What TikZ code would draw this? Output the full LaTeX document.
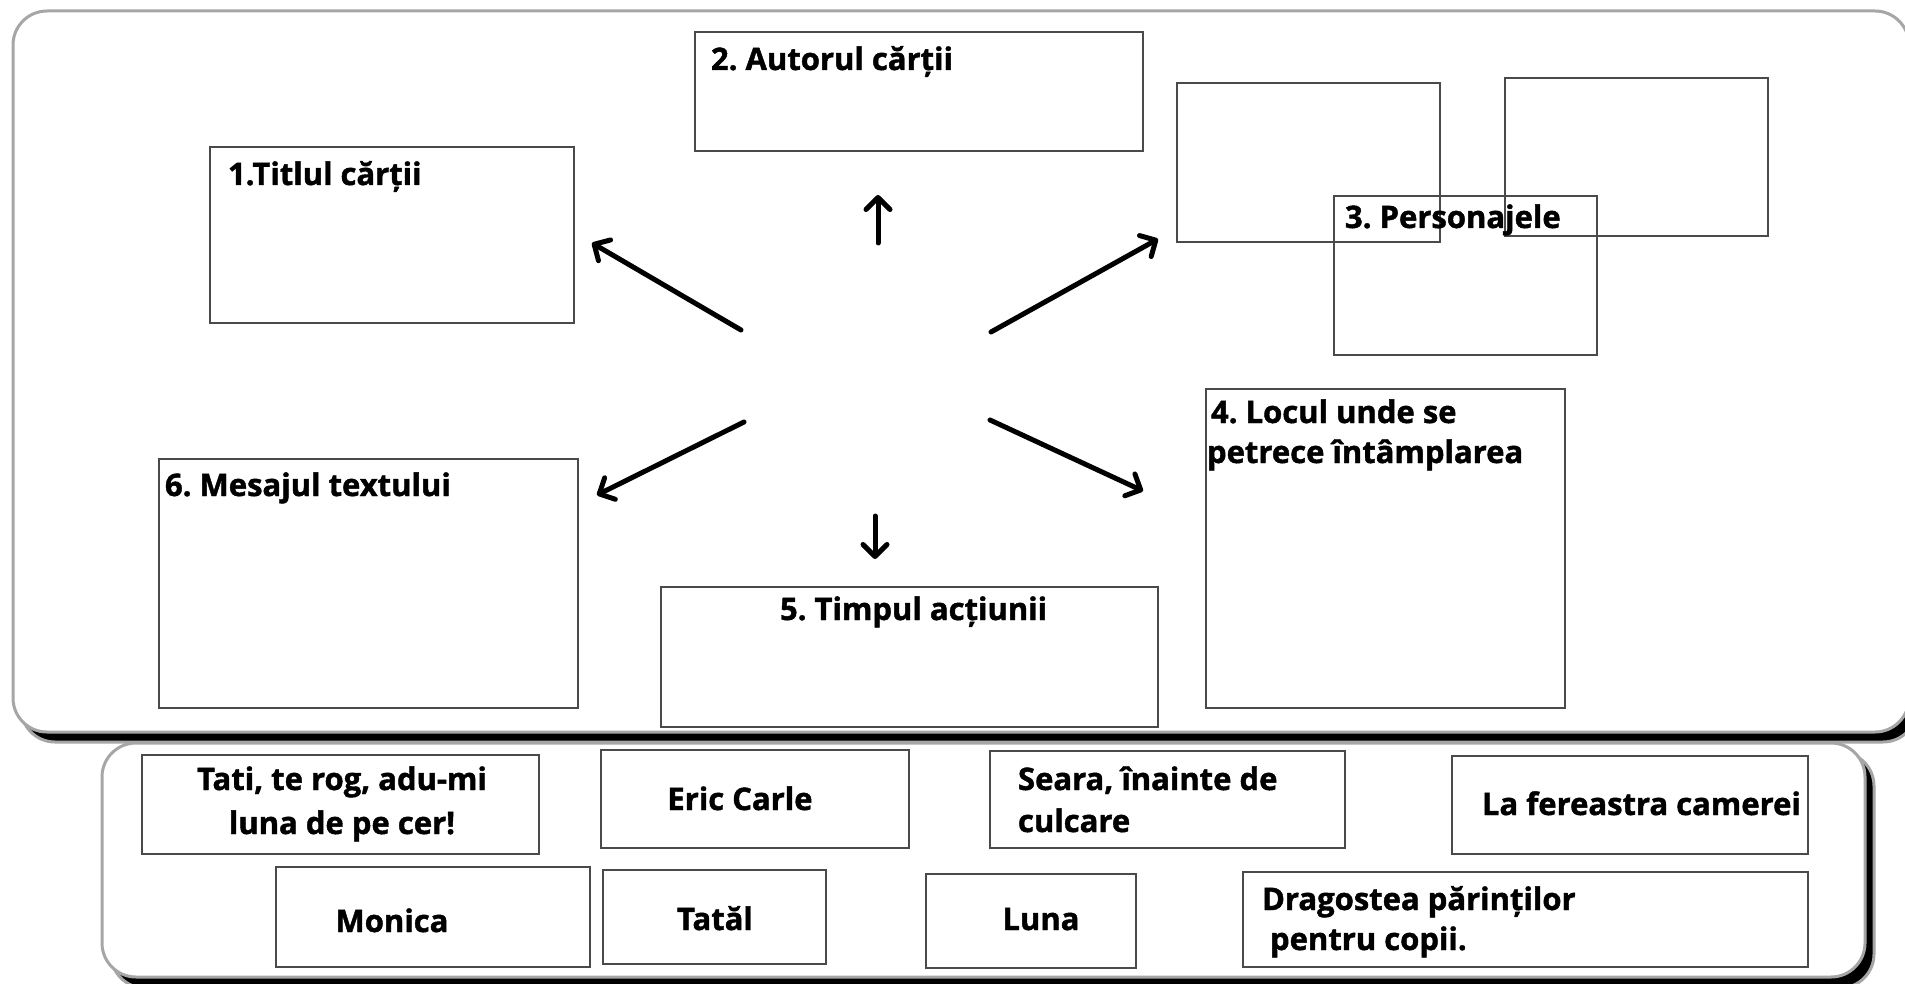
\documentclass[tikz,border=0pt]{standalone}
\usepackage{fontspec}
\setmainfont{Open Sans}[BoldFeatures={FakeBold=1.4}]
\usetikzlibrary{arrows.meta,fit}
\definecolor{framegrey}{HTML}{A6A6A6}
\definecolor{boxline}{HTML}{4A4A4A}
\frenchspacing
\begin{document}
\begin{tikzpicture}[x=1pt,y=-1pt,
  box/.style={draw=boxline, line width=1.4pt, inner sep=0pt, outer sep=0pt},
  lbl/.style={font=\fontsize{31}{40}\selectfont\bfseries, inner sep=0pt, outer sep=0pt, text=black},
  arr/.style={line width=5pt, line cap=round, line join=round,
    -{Straight Barb[length=12pt,width=24pt,line cap=round,line join=round]}},
  panel/.style={draw=framegrey, fill=white, line width=3pt, rounded corners=34pt},
  panelshade/.style={draw=framegrey, fill=black, line width=3pt, rounded corners=34pt}]
\useasboundingbox (0,0) rectangle (1905,984);

% frames
\draw[panelshade] (21,21) rectangle (1917,742);
\draw[panel] (13,11) rectangle (1909,732);
\draw[panelshade] (111,752) rectangle (1874,988);
\draw[panel] (102,743) rectangle (1865,977);

% upper boxes
\node[box, fit={(210,147) (574,323)}] (b1) {};
\node[box, fit={(695,32) (1143,151)}] (b2) {};
\node[box, fit={(1177,83) (1440,242)}] (b3a) {};
\node[box, fit={(1505,78) (1768,236)}] (b3b) {};
\node[box, fit={(1334,196) (1597,355)}] (b3c) {};
\node[box, fit={(1206,389) (1565,708)}] (b4) {};
\node[box, fit={(661,587) (1158,727)}] (b5) {};
\node[box, fit={(159,459) (578,708)}] (b6) {};

\node[lbl, anchor=base west] (t1) at (228,185) {1.Titlul cărții};
\node[lbl, anchor=base west] (t2) at (711,70) {2. Autorul cărții};
\node[lbl, anchor=base west] (t3) at (1345,228) {3. Personajele};
\node[lbl, anchor=base west] (t4a) at (1211,423) {4. Locul unde se};
\node[lbl, anchor=base west] (t4b) at (1207,463) {petrece întâmplarea};
\node[lbl, anchor=base west] (t5) at (780,620) {5. Timpul acțiunii};
\node[lbl, anchor=base west] (t6) at (165,496) {6. Mesajul textului};

% arrows
\coordinate (a1s) at (741,330); \coordinate (a1e) at (592,243);
\coordinate (a2s) at (878,243); \coordinate (a2e) at (878,195);
\coordinate (a3s) at (991,332); \coordinate (a3e) at (1158,239);
\coordinate (a4s) at (990,420); \coordinate (a4e) at (1143,491);
\coordinate (a5s) at (875,516); \coordinate (a5e) at (875,559);
\coordinate (a6s) at (744,422); \coordinate (a6e) at (597,495);
\draw[arr] (a1s) -- (a1e);
\draw[arr] (a2s) -- (a2e);
\draw[arr] (a3s) -- (a3e);
\draw[arr] (a4s) -- (a4e);
\draw[arr] (a5s) -- (a5e);
\draw[arr] (a6s) -- (a6e);

% lower boxes
\node[box, fit={(142,755) (539,854)}] (q1) {};
\node[box, fit={(601,750) (909,848)}] (q2) {};
\node[box, fit={(990,751) (1345,848)}] (q3) {};
\node[box, fit={(1452,756) (1808,854)}] (q4) {};
\node[box, fit={(276,867) (590,967)}] (q5) {};
\node[box, fit={(603,870) (826,964)}] (q6) {};
\node[box, fit={(926,874) (1136,968)}] (q7) {};
\node[box, fit={(1243,872) (1808,967)}] (q8) {};

\node[lbl, anchor=base] (s1a) at (342,790) {Tati, te rog, adu-mi};
\node[lbl, anchor=base] (s1b) at (342,834) {luna de pe cer!};
\node[lbl, anchor=base] (s2) at (740,810) {Eric Carle};
\node[lbl, anchor=base west] (s3a) at (1018,790) {Seara, înainte de};
\node[lbl, anchor=base west] (s3b) at (1018,832) {culcare};
\node[lbl, anchor=base west] (s4) at (1482,815) {La fereastra camerei};
\node[lbl, anchor=base] (s5) at (392,932) {Monica};
\node[lbl, anchor=base] (s6) at (715,930) {Tatăl};
\node[lbl, anchor=base] (s7) at (1041,930) {Luna};
\node[lbl, anchor=base west] (s8a) at (1262,910) {Dragostea părinților};
\node[lbl, anchor=base west] (s8b) at (1270,950) {pentru copii.};
\end{tikzpicture}
\end{document}
